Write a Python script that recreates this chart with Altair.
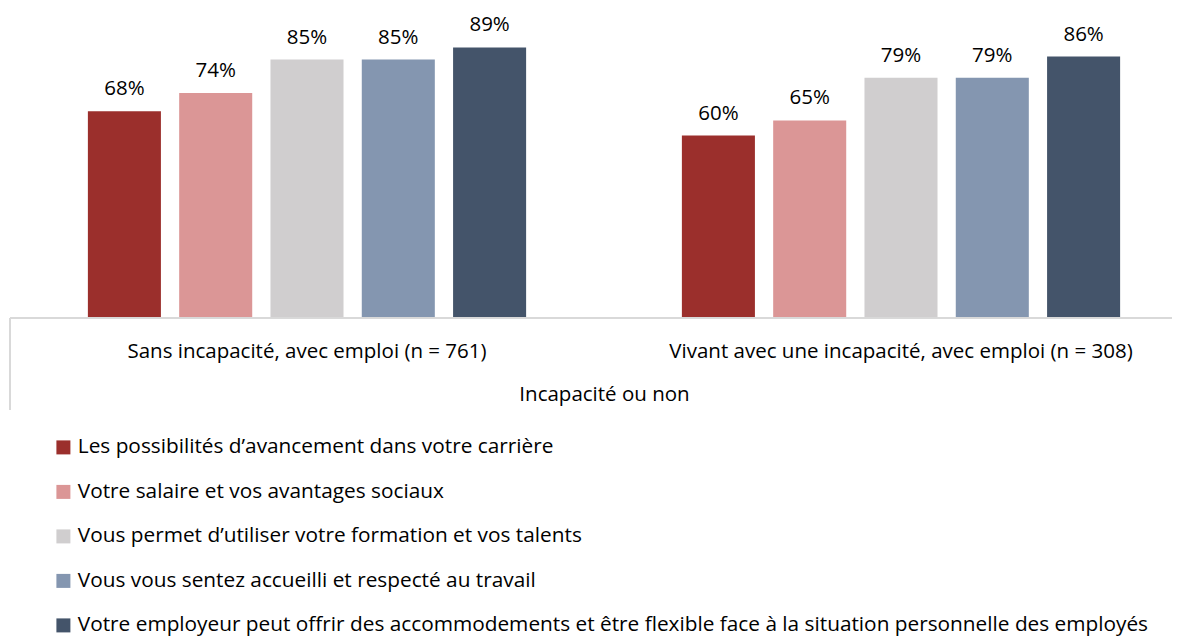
import altair as alt
import pandas as pd

groups = [
    "Sans incapacité, avec emploi (n = 761)",
    "Vivant avec une incapacité, avec emploi (n = 308)",
]
series = [
    "Les possibilités d’avancement dans votre carrière",
    "Votre salaire et vos avantages sociaux",
    "Vous permet d’utiliser votre formation et vos talents",
    "Vous vous sentez accueilli et respecté au travail",
    "Votre employeur peut offrir des accommodements et être flexible face à la situation personnelle des employés",
]
colors = ["#9B2F2C", "#DB9696", "#D0CECF", "#8496B0", "#44546A"]
values_sans = [68, 74, 85, 85, 89]
values_avec = [60, 65, 79, 79, 86]
axis_title = "Incapacité ou non"

rows = []
for g, vals in zip(groups, [values_sans, values_avec]):
    for s, v in zip(series, vals):
        rows.append({"groupe": g, "serie": s, "valeur": v, "label": f"{v}%"})
df = pd.DataFrame(rows)

FONT = "Open Sans"
FS = 20.5
W = 1162
H = 304

x_enc = alt.X(
    "groupe:N",
    sort=groups,
    title=axis_title,
    scale=alt.Scale(range=[0, 1188], paddingInner=0, paddingOuter=0),
    axis=alt.Axis(
        labelAngle=0, ticks=False, domain=False,
        labelFont=FONT, labelFontSize=FS, labelColor="#000000", labelPadding=23,
        labelLimit=0,
        titleFont=FONT, titleFontSize=FS, titleFontWeight="normal", titleColor="#000000",
        titlePadding=23,
    ),
)
xo_enc = alt.XOffset("serie:N", sort=series,
                     scale=alt.Scale(paddingInner=0.2, paddingOuter=0.853))
y_enc = alt.Y("valeur:Q", scale=alt.Scale(domain=[0, 100]), axis=None)

bars = alt.Chart(df).mark_bar().encode(
    x=x_enc,
    xOffset=xo_enc,
    y=y_enc,
    color=alt.Color(
        "serie:N",
        sort=series,
        scale=alt.Scale(domain=series, range=colors),
        legend=alt.Legend(
            title=None, orient="none", legendX=43, legendY=423, padding=0,
            direction="vertical", symbolType="square", symbolSize=196,
            symbolStrokeWidth=0, labelFont=FONT, labelFontSize=20.8,
            labelColor="#000000", rowPadding=22.5, labelLimit=0, labelOffset=4,
        ),
    ),
)

labels = alt.Chart(df).mark_text(
    baseline="alphabetic", dy=-16, font=FONT, fontSize=FS, color="#000000"
).encode(x=x_enc, xOffset=xo_enc, y=y_enc, text="label:N")

frame_h = alt.Chart(df).mark_rule(color="#D9D9D9", strokeWidth=1.5).encode(
    x=alt.value(0), x2=alt.value(W), y=alt.value(H)
)
frame_v = alt.Chart(df).mark_rule(color="#D9D9D9", strokeWidth=1.5).encode(
    x=alt.value(0), y=alt.value(H), y2=alt.value(396)
)

chart = (
    alt.layer(bars, labels, frame_h, frame_v)
    .properties(
        width=W, height=H,
        autosize=alt.AutoSizeParams(type="none"),
        padding={"left": 2, "top": 6, "right": 0, "bottom": 320},
    )
    .configure_view(stroke=None)
)

chart.save("out.html", embed_options={"renderer": "svg", "actions": False})
